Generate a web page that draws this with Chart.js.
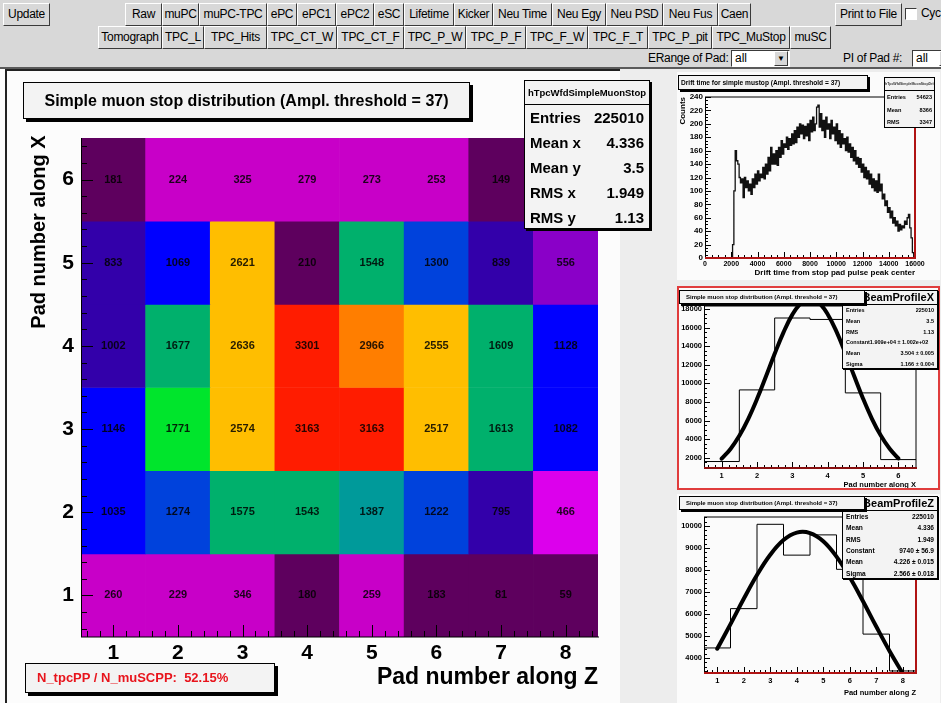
<!DOCTYPE html>
<html>
<head>
<meta charset="utf-8">
<title>Simple muon stop distribution</title>
<script src="https://cdn.jsdelivr.net/npm/chart.js@4.4.1/dist/chart.umd.min.js"></script>
<style>
  html, body { margin: 0; padding: 0; }
  body { width: 941px; height: 703px; overflow: hidden; position: relative; background: #ededed;
         font-family: 'Liberation Sans', Arial, sans-serif; }
  .abs { position: absolute; }
  #toolbar { left: 0; top: 0; width: 941px; height: 67px; background: #d8d8d8; }
  #sep { left: 0; top: 67px; width: 941px; height: 2px; background: #5a5a5a; }
  .btn { position: absolute; box-sizing: border-box; height: 23px; background: #d8d8d8;
         border: 1px solid; border-color: #fff #3a3a3a #3a3a3a #fff;
         font: 12px 'Liberation Sans', Arial, sans-serif; letter-spacing: -0.3px; line-height: 21px;
         text-align: center; white-space: nowrap; overflow: hidden; color: #000; }
  .lbl { position: absolute; font: 12px 'Liberation Sans', Arial, sans-serif; letter-spacing: -0.3px; white-space: nowrap; }
  .combo { position: absolute; box-sizing: border-box; height: 17px; background: #fff; border: 1px solid;
           border-color: #3a3a3a #fff #fff #3a3a3a; padding-left: 3px;
           font: 12px 'Liberation Sans', Arial, sans-serif; line-height: 15px; }
  .combo .arrow { position: absolute; top: 0; width: 14px; height: 15px; box-sizing: border-box; background: #d8d8d8;
                  border: 1px solid; border-color: #fff #3a3a3a #3a3a3a #fff; font-size: 8px; line-height: 13px; text-align: center; }
  canvas { position: absolute; }
  .pave { position: absolute; box-sizing: border-box; background: #f3f3f3; border: 1px solid #000;
          white-space: nowrap; font-weight: bold; color: #000; overflow: hidden; }
  .row { display: flex; justify-content: space-between; align-items: center; }
  .hdr { display: flex; justify-content: flex-end; overflow: hidden; border-bottom: 1px solid #000; }
</style>
</head>
<body>
<div id="toolbar" class="abs"></div>
<div id="sep" class="abs"></div>

<div class="abs" style="left:0;top:69px;width:620px;height:634px;background:#fcfcfc;"></div>
<div class="abs" style="left:5px;top:69px;width:2px;height:634px;background:#222;"></div>
<div class="abs" style="left:5px;top:69px;width:615px;height:2px;background:#222;"></div>
<canvas id="mainChart" width="620" height="633" style="left:0;top:70px;"></canvas>

<div class="abs" style="left:677px;top:72px;width:263px;height:208px;background:#fbfbfb;"></div>
<canvas id="driftChart" width="263" height="208" style="left:677px;top:72px;"></canvas>
<div class="abs" style="left:677px;top:286px;width:263px;height:204px;background:#fbfbfb;"></div>
<canvas id="profXChart" width="263" height="204" style="left:677px;top:286px;"></canvas>
<div class="abs" style="left:677px;top:286px;width:263px;height:204px;box-sizing:border-box;border:2px solid #e03c3c;"></div>
<div class="abs" style="left:677px;top:494px;width:263px;height:209px;background:#fbfbfb;"></div>
<canvas id="profZChart" width="263" height="209" style="left:677px;top:494px;"></canvas>

<!-- main pad texts -->
<div class="pave" style="left:23px;top:82px;width:447px;height:37px;box-shadow:3px 3px 0 #000;font-size:16px;line-height:35px;text-align:center;">Simple muon stop distribution (Ampl. threshold = 37)</div>
<div class="pave" style="left:524px;top:80px;width:126px;height:149px;box-shadow:2px 2px 0 #000;">
  <div style="height:23px;border-bottom:1px solid #000;font-size:9.5px;line-height:23px;text-align:center;">hTpcWfdSimpleMuonStop</div>
  <div class="row" style="height:25px;padding:0 5px;font-size:15px;"><span>Entries</span><span>225010</span></div>
  <div class="row" style="height:25px;padding:0 5px;font-size:15px;"><span>Mean x</span><span>4.336</span></div>
  <div class="row" style="height:25px;padding:0 5px;font-size:15px;"><span>Mean y</span><span>3.5</span></div>
  <div class="row" style="height:25px;padding:0 5px;font-size:15px;"><span>RMS x</span><span>1.949</span></div>
  <div class="row" style="height:25px;padding:0 5px;font-size:15px;"><span>RMS y</span><span>1.13</span></div>
</div>
<div class="abs" style="left:-82px;top:218px;width:240px;height:28px;line-height:28px;text-align:center;font-weight:bold;font-size:20px;transform:rotate(-90deg);">Pad number along X</div>
<div class="pave" style="left:25px;top:663px;width:250px;height:30px;box-shadow:3px 3px 0 #000;font-size:13px;line-height:28px;color:#e8141c;padding-left:11px;">N_tpcPP / N_muSCPP:&nbsp; 52.15%</div>

<!-- drift pad texts -->
<div class="pave" style="left:678px;top:75px;width:190px;height:15px;box-shadow:2px 2px 0 #000;font-size:6.6px;line-height:13px;padding-left:2px;">Drift time for simple mustop (Ampl. threshold = 37)</div>
<div class="pave" style="left:884px;top:77px;width:51px;height:51px;">
  <div style="height:12px;border-bottom:1px solid #000;font-size:3.5px;line-height:12px;text-align:center;color:#333;">hTpcWfdSimpleMuonStopDriftTime</div>
  <div class="row" style="height:12px;padding:0 2px;font-size:5.6px;"><span>Entries</span><span>54623</span></div>
  <div class="row" style="height:13px;padding:0 2px;font-size:5.6px;"><span>Mean</span><span>8366</span></div>
  <div class="row" style="height:12px;padding:0 2px;font-size:5.6px;"><span>RMS</span><span>3347</span></div>
</div>

<!-- profile X pad texts -->
<div class="pave" style="left:842px;top:290px;width:96px;height:79px;box-shadow:1px 1px 0 #000;">
  <div class="hdr" style="height:13px;font-size:11px;line-height:13px;padding-right:3px;"><span>hTpcWfdSimpleMuonStopBeamProfileX</span></div>
  <div class="row" style="height:10.7px;padding:0 3px;font-size:5.5px;"><span>Entries</span><span>225010</span></div>
  <div class="row" style="height:10.7px;padding:0 3px;font-size:5.5px;"><span>Mean</span><span>3.5</span></div>
  <div class="row" style="height:10.7px;padding:0 3px;font-size:5.5px;"><span>RMS</span><span>1.13</span></div>
  <div class="row" style="height:10.7px;padding:0 3px;font-size:5.5px;"><span>Constant1.909e+04 ± 1.002e+02</span></div>
  <div class="row" style="height:10.7px;padding:0 3px;font-size:5.5px;"><span>Mean</span><span>3.504 ± 0.005</span></div>
  <div class="row" style="height:10.7px;padding:0 3px;font-size:5.5px;"><span>Sigma</span><span>1.166 ± 0.004</span></div>
</div>
<div class="pave" style="left:679px;top:290px;width:186px;height:14px;box-shadow:2px 2px 0 #000;font-size:6px;line-height:12px;padding-left:6px;">Simple muon stop distribution (Ampl. threshold = 37)</div>

<!-- profile Z pad texts -->
<div class="pave" style="left:842px;top:496px;width:96px;height:83px;box-shadow:1px 1px 0 #000;">
  <div class="hdr" style="height:13px;font-size:11px;line-height:13px;padding-right:3px;"><span>hTpcWfdSimpleMuonStopBeamProfileZ</span></div>
  <div class="row" style="height:11.3px;padding:0 3px;font-size:6.6px;"><span>Entries</span><span>225010</span></div>
  <div class="row" style="height:11.3px;padding:0 3px;font-size:6.6px;"><span>Mean</span><span>4.336</span></div>
  <div class="row" style="height:11.3px;padding:0 3px;font-size:6.6px;"><span>RMS</span><span>1.949</span></div>
  <div class="row" style="height:11.3px;padding:0 3px;font-size:6.6px;"><span>Constant</span><span>9740 ± 56.9</span></div>
  <div class="row" style="height:11.3px;padding:0 3px;font-size:6.6px;"><span>Mean</span><span>4.226 ± 0.015</span></div>
  <div class="row" style="height:11.3px;padding:0 3px;font-size:6.6px;"><span>Sigma</span><span>2.566 ± 0.018</span></div>
</div>
<div class="pave" style="left:679px;top:496px;width:186px;height:14px;box-shadow:2px 2px 0 #000;font-size:6px;line-height:12px;padding-left:6px;">Simple muon stop distribution (Ampl. threshold = 37)</div>

<script>
// --- donnees ---
const padZ = [1, 2, 3, 4, 5, 6, 7, 8];
const padX = [1, 2, 3, 4, 5, 6];

// comptages par ligne (pad X), colonnes = pad Z 1..8
const countsRow1 = [260, 229, 346, 180, 259, 183, 81, 59];
const countsRow2 = [1035, 1274, 1575, 1543, 1387, 1222, 795, 466];
const countsRow3 = [1146, 1771, 2574, 3163, 3163, 2517, 1613, 1082];
const countsRow4 = [1002, 1677, 2636, 3301, 2966, 2555, 1609, 1128];
const countsRow5 = [833, 1069, 2621, 210, 1548, 1300, 839, 556];
const countsRow6 = [181, 224, 325, 279, 273, 253, 149, 120]; // derniere case cachee par la boite de stats
const countsByRow = [countsRow1, countsRow2, countsRow3, countsRow4, countsRow5, countsRow6];

// temps de derive, bins de 100 de 0 a 16000
const driftBinWidth = 100;
const driftCounts = [
  0, 0, 0, 0, 0, 0, 0, 0, 0, 0,
  0, 0, 0, 0, 0, 0, 0, 0, 0, 0,
  0, 20, 100, 160, 145, 140, 120, 112, 118, 90,
  120, 105, 115, 100, 110, 95, 118, 105, 125, 110,
  130, 115, 125, 120, 135, 118, 140, 125, 150, 130,
  165, 140, 155, 140, 160, 138, 165, 150, 175, 155,
  170, 165, 180, 162, 178, 168, 185, 170, 190, 172,
  195, 180, 200, 185, 198, 178, 196, 182, 200, 175,
  205, 188, 210, 190, 200, 225, 228, 195, 215, 190,
  205, 180, 210, 192, 200, 178, 205, 185, 195, 175,
  200, 170, 190, 165, 185, 170, 178, 160, 180, 158,
  170, 150, 165, 145, 160, 140, 150, 135, 148, 128,
  140, 120, 135, 118, 130, 110, 125, 105, 118, 100,
  115, 98, 125, 100, 110, 88, 95, 78, 85, 68,
  75, 60, 70, 52, 60, 48, 55, 40, 50, 42,
  48, 45, 55, 50, 60, 65, 45, 30, 8, 0
];

// projections
const profileX = [1597, 9297, 17029, 16874, 8976, 1804];
const profileZ = [4457, 6244, 10077, 8676, 9596, 8030, 5086, 3411];

// courbes d'ajustement gaussien
const fitXPos = [1, 1.25, 1.5, 1.75, 2, 2.25, 2.5, 2.75, 3, 3.25, 3.5, 3.75, 4, 4.25, 4.5, 4.75, 5, 5.25, 5.5, 5.75, 6];
const fitXVal = [1900, 2950, 4360, 6160, 8310, 10710, 13180, 15490, 17390, 18640, 19090, 18670, 17440, 15560, 13250, 10790, 8380, 6220, 4410, 2990, 1930];
const fitZPos = [1, 1.5, 2, 2.5, 3, 3.5, 4, 4.5, 5, 5.5, 6, 6.5, 7, 7.5, 8];
const fitZVal = [4420, 5540, 6690, 7770, 8690, 9360, 9700, 9680, 9310, 8610, 7670, 6580, 5430, 4320, 3300];

// etiquettes des axes
const driftXTicks = [0, 2000, 4000, 6000, 8000, 10000, 12000, 14000, 16000];
const driftYTicks = [0, 20, 40, 60, 80, 100, 120, 140, 160, 180, 200, 220, 240];
const profXYTicks = [2000, 4000, 6000, 8000, 10000, 12000, 14000, 16000, 18000];
const profZYTicks = [4000, 5000, 6000, 7000, 8000, 9000, 10000];

// palette facon ROOT (seuil haut, couleur)
const palette = [
  [215, '#5e005e'], [400, '#c800c8'], [500, '#dc00ec'], [700, '#8a00c8'], [1020, '#3300aa'],
  [1200, '#0000ff'], [1350, '#0042dc'], [1450, '#009a9a'], [1700, '#00b06c'], [2000, '#00e52c'],
  [2800, '#ffbe00'], [3050, '#ff7e00'], [Infinity, '#ff1c00']
];
function colorFor(v) {
  return palette.find(p => v < p[0])[1];
}

// --- barre d'outils ---
const toolRow1 = [['Update', 3, 50], ['Raw', 125, 162], ['muPC', 162, 199], ['muPC-TPC', 199, 267], ['ePC', 267, 297],
  ['ePC1', 297, 336], ['ePC2', 336, 374], ['eSC', 374, 404], ['Lifetime', 404, 454], ['Kicker', 454, 493],
  ['Neu Time', 493, 552], ['Neu Egy', 552, 606], ['Neu PSD', 606, 663], ['Neu Fus', 663, 718], ['Caen', 718, 751],
  ['Print to File', 835, 902]];
const toolRow2 = [['Tomograph', 98, 162], ['TPC_L', 162, 204], ['TPC_Hits', 204, 267], ['TPC_CT_W', 267, 337],
  ['TPC_CT_F', 337, 404], ['TPC_P_W', 404, 466], ['TPC_P_F', 466, 526], ['TPC_F_W', 526, 588], ['TPC_F_T', 588, 648],
  ['TPC_P_pit', 648, 712], ['TPC_MuStop', 712, 790], ['muSC', 790, 831]];

function buildToolbar() {
  const bar = document.getElementById('toolbar');
  const add = (html) => bar.insertAdjacentHTML('beforeend', html);
  toolRow1.forEach(([t, a, b]) => add(`<div class="btn" style="left:${a}px;top:3px;width:${b - a}px;">${t}</div>`));
  toolRow2.forEach(([t, a, b]) => add(`<div class="btn" style="left:${a}px;top:26px;width:${b - a}px;">${t}</div>`));
  add('<div class="abs" style="left:905px;top:8px;width:12px;height:12px;box-sizing:border-box;background:#fff;border:1px solid;border-color:#3a3a3a #fff #fff #3a3a3a;"></div>');
  add('<div class="lbl" style="left:921px;top:6px;">Cycl</div>');
  add('<div class="lbl" style="left:648px;top:51px;">ERange of Pad:</div>');
  add('<div class="combo" style="left:731px;top:50px;width:59px;">all<div class="arrow" style="left:42px;">&#9660;</div></div>');
  add('<div class="lbl" style="left:843px;top:51px;">PI of Pad #:</div>');
  add('<div class="combo" style="left:912px;top:50px;width:40px;">all<div class="arrow" style="left:26px;">&#9660;</div></div>');
}

// --- graduations internes et cadre facon ROOT ---
function tickSet(from, to, step) {
  const out = [];
  for (let v = from; v <= to + 1e-9; v += step) out.push(Math.round(v * 1e6) / 1e6);
  return out;
}

const rootFrame = {
  id: 'rootFrame',
  afterDatasetsDraw(chart, args, o) {
    const { ctx, chartArea: a, scales: { x, y } } = chart;
    ctx.save();
    const line = (x1, y1, x2, y2, c, w) => {
      ctx.strokeStyle = c; ctx.lineWidth = w;
      ctx.beginPath(); ctx.moveTo(x1, y1); ctx.lineTo(x2, y2); ctx.stroke();
    };
    o.xTicks.forEach(v => {
      const p = Math.round(x.getPixelForValue(v)) + 0.5;
      const len = o.xMajor.includes(v) ? o.majorLen : o.minorLen;
      line(p, a.bottom, p, a.bottom - len, '#000', 1);
    });
    o.yTicks.forEach(v => {
      const p = Math.round(y.getPixelForValue(v)) + 0.5;
      const len = o.yMajor.includes(v) ? o.majorLen : o.minorLen;
      line(a.left, p, a.left + len, p, '#000', 1);
    });
    if (o.top) line(a.left, a.top, a.right, a.top, o.top, 1);
    line(a.left + 0.5, a.top, a.left + 0.5, a.bottom, '#000', 1);
    if (o.right) line(a.right, a.top, a.right, a.bottom, o.right, o.rightWidth || 1);
    line(a.left, a.bottom, a.right + 1, a.bottom, o.bottom || '#000', o.bottomWidth || 1);
    ctx.restore();
  }
};

const cellLabels = {
  id: 'cellLabels',
  afterDatasetsDraw(chart) {
    const meta = chart.getDatasetMeta(0);
    const data = chart.data.datasets[0].data;
    const ctx = chart.ctx;
    ctx.save();
    ctx.font = 'bold 11px "Liberation Sans", Arial, sans-serif';
    ctx.fillStyle = 'rgba(0,0,0,0.85)';
    ctx.textAlign = 'center';
    ctx.textBaseline = 'middle';
    meta.data.forEach((el, i) => ctx.fillText(String(data[i].count), el.x, (el.y + el.base) / 2));
    ctx.restore();
  }
};

function axis(min, max, labels, font, padding, size, title) {
  return {
    type: 'linear', min, max, offset: false,
    grid: { display: false, drawTicks: false },
    border: { display: false },
    ticks: { font, padding, color: '#000', autoSkip: false, maxRotation: 0, minRotation: 0, callback: v => String(v) },
    afterBuildTicks: s => { s.ticks = labels.map(v => ({ value: v })); },
    afterFit: s => { if (s.isHorizontal()) s.height = size; else s.width = size; },
    title: title || { display: false }
  };
}

function baseOptions(padding) {
  return {
    responsive: false, animation: false, events: [],
    layout: { padding },
    plugins: { legend: { display: false }, tooltip: { enabled: false } }
  };
}

// --- histogramme 2D principal ---
function renderMainChart() {
  const cells = [];
  countsByRow.forEach((row, r) => row.forEach((count, i) => {
    cells.push({ x: padZ[i], y: [padX[r] - 0.5, padX[r] + 0.5], count });
  }));
  const bold = { family: 'Liberation Sans', weight: 'bold', size: 21 };
  const opts = baseOptions({ left: 0, right: 22, top: 68, bottom: 0 });
  opts.scales = {
    x: axis(0.5, 8.5, padZ, bold, 4, 66, {
      display: true, text: 'Pad number along Z', align: 'end', color: '#000',
      font: { family: 'Liberation Sans', weight: 'bold', size: 23 }, padding: { top: 0, bottom: 12 }
    }),
    y: axis(0.5, 6.5, padX, bold, 7, 81)
  };
  opts.plugins.rootFrame = {
    xTicks: tickSet(0.6, 8.4, 0.2), xMajor: padZ, yTicks: tickSet(0.6, 6.4, 0.2), yMajor: padX,
    majorLen: 12, minorLen: 6
  };
  new Chart(document.getElementById('mainChart'), {
    type: 'bar',
    data: {
      datasets: [{
        data: cells,
        backgroundColor: c => colorFor(c.raw ? c.raw.count : 0),
        borderWidth: 0,
        barPercentage: 1,
        categoryPercentage: 1
      }]
    },
    options: opts,
    plugins: [rootFrame, cellLabels]
  });
}

// --- temps de derive ---
function renderDriftChart() {
  const pts = driftCounts.map((c, i) => ({ x: i * driftBinWidth, y: c }));
  pts.push({ x: driftCounts.length * driftBinWidth, y: 0 });
  const opts = baseOptions({ left: 0, right: 25, top: 25, bottom: 0 });
  opts.scales = {
    x: axis(0, 16000, driftXTicks, { family: 'Liberation Sans', weight: 'bold', size: 7 }, 2, 22, {
      display: true, text: 'Drift time from stop pad pulse peak center', align: 'end', color: '#000',
      font: { family: 'Liberation Sans', weight: 'bold', size: 8 }, padding: { top: 0, bottom: 2 }
    }),
    y: axis(0, 240, driftYTicks, { family: 'Liberation Sans', weight: 'bold', size: 8 }, 2, 28, {
      display: true, text: 'Counts', align: 'end', color: '#000',
      font: { family: 'Liberation Sans', weight: 'bold', size: 8 }, padding: { top: 1, bottom: 0 }
    })
  };
  opts.plugins.rootFrame = {
    xTicks: tickSet(0, 16000, 500), xMajor: driftXTicks, yTicks: tickSet(0, 240, 5), yMajor: driftYTicks,
    majorLen: 6, minorLen: 3, top: '#000', right: '#b01414', rightWidth: 2, bottom: '#b01414', bottomWidth: 2
  };
  new Chart(document.getElementById('driftChart'), {
    type: 'scatter',
    data: { datasets: [{ data: pts, showLine: true, stepped: true, borderColor: '#111', borderWidth: 1.3, pointRadius: 0 }] },
    options: opts,
    plugins: [rootFrame]
  });
}

// --- projections avec ajustement ---
function renderProfile(canvasId, pads, values, fitPos, fitVal, yMin, yMax, yLabels, yMinorStep, padTop, axisH, titleText, titlePad, frame) {
  const hist = values.map((v, i) => ({ x: pads[i] - 0.5, y: v }));
  hist.push({ x: pads[pads.length - 1] + 0.5, y: values[values.length - 1] });
  const fit = fitPos.map((x, i) => ({ x, y: fitVal[i] }));
  const small = { family: 'Liberation Sans', weight: 'bold', size: 7.5 };
  const opts = baseOptions({ left: 0, right: 24, top: padTop, bottom: 0 });
  opts.scales = {
    x: axis(0.5, pads.length + 0.5, pads, small, 3, axisH, {
      display: true, text: titleText, align: 'end', color: '#000',
      font: { family: 'Liberation Sans', weight: 'bold', size: 7.5 }, padding: { top: 0, bottom: titlePad }
    }),
    y: axis(yMin, yMax, yLabels, small, 2, 27)
  };
  opts.plugins.rootFrame = Object.assign({
    xTicks: tickSet(0.6, pads.length + 0.4, 0.2), xMajor: pads,
    yTicks: tickSet(Math.ceil(yMin / yMinorStep) * yMinorStep, yMax, yMinorStep), yMajor: yLabels,
    majorLen: 6, minorLen: 3
  }, frame);
  new Chart(document.getElementById(canvasId), {
    type: 'scatter',
    data: {
      datasets: [
        { data: hist, showLine: true, stepped: true, borderColor: '#000', borderWidth: 1, pointRadius: 0 },
        { data: fit, showLine: true, tension: 0.4, borderColor: '#000', borderWidth: 4, pointRadius: 0, borderCapStyle: 'round' }
      ]
    },
    options: opts,
    plugins: [rootFrame]
  });
}

window.onload = function() {
  buildToolbar();
  renderMainChart();
  renderDriftChart();
  renderProfile('profXChart', padX, profileX, fitXPos, fitXVal, 900, 18320, profXYTicks, 500, 20, 22,
    'Pad number along X', 0.6, { top: '#000', right: '#000', bottom: '#8a1010', bottomWidth: 2 });
  renderProfile('profZChart', padZ, profileZ, fitZPos, fitZVal, 3318, 10409, profZYTicks, 200, 23, 30,
    'Pad number along Z', 5.5, { top: '#000', right: '#b01414', rightWidth: 2, bottom: '#b01414', bottomWidth: 2 });
};
</script>
</body>
</html>
